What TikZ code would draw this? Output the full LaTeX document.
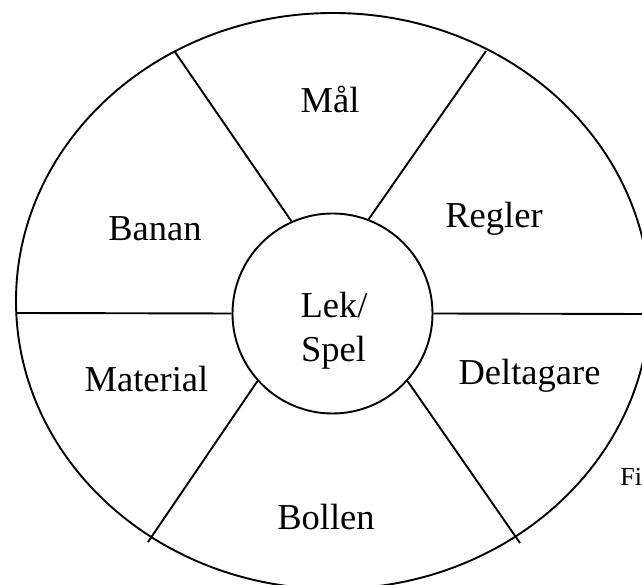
\documentclass[tikz,border=0pt]{standalone}
\usepackage{fontspec}
\setmainfont{Liberation Serif}
\begin{document}
\begin{tikzpicture}[x=1pt,y=1pt,line width=1.9pt,
  lbl/.style={font=\fontsize{36.5}{44}\selectfont, inner sep=0pt, anchor=base},
  hub/.style={circle, draw, minimum size=200pt, inner sep=0pt}]
\useasboundingbox (0,0) rectangle (642,585);
\clip (0,0) rectangle (642,585);
% outer ellipse
\draw (333,284) ellipse [x radius=317, y radius=288];
% centre circle
\node[hub] (c) at (332.5,271.5) {};
% spoke ends on the outer ellipse
\coordinate (eL) at (16,272);
\coordinate (eR) at (642,271);
\coordinate (eTL) at (175,533);
\coordinate (eTR) at (486,534);
\coordinate (eBL) at (148,43);
\coordinate (eBR) at (520,42);
\draw (c.180) -- (eL);
\draw (c.0) -- (eR);
\draw (c.114) -- (eTL);
\draw (c.69) -- (eTR);
\draw (c.222) -- (eBL);
\draw (c.318) -- (eBR);
% labels
\node[lbl] (mal) at (330,472) {Mål};
\node[lbl] (banan) at (155,344) {Banan};
\node[lbl] (regler) at (494,357) {Regler};
\node[lbl] (material) at (146.5,193) {Material};
\node[lbl] (deltagare) at (529.5,200) {Deltagare};
\node[lbl] (bollen) at (326,55) {Bollen};
\node[lbl] (lek) at (334,267) {Lek/};
\node[lbl] (spel) at (333.5,223) {Spel};
\node[font=\fontsize{26}{30}\selectfont, inner sep=0pt, anchor=base west] (fi) at (619.5,99) {Fi};
\end{tikzpicture}
\end{document}
